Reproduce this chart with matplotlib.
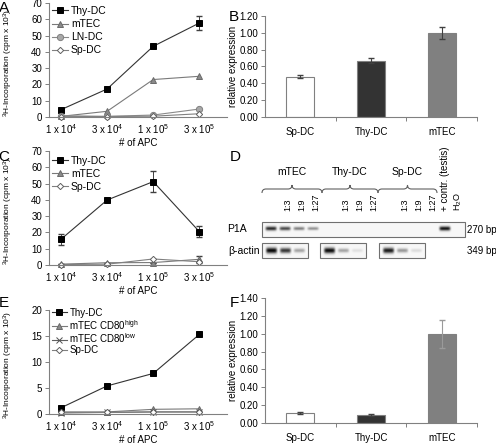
"""
Multi-panel figure: T-cell proliferation vs APC number, relative P1A
expression and an RT-PCR gel (panels A-F).
"""
import numpy as np
import matplotlib
matplotlib.use("Agg")
import matplotlib.pyplot as plt
from matplotlib.path import Path
from matplotlib.patches import PathPatch, Rectangle

plt.rcParams["font.family"] = ["Liberation Sans", "DejaVu Sans"]
plt.rcParams["mathtext.default"] = "regular"

W, H = 496, 445

# --- data ---
apc_labels = ["1 x 10$^{4}$", "3 x 10$^{4}$", "1 x 10$^{5}$", "3 x 10$^{5}$"]

thy_a = [4.5, 17.2, 43.4, 57.7]
thy_a_err = [0, 0, 0, 4.5]
mtec_a = [0.4, 3.5, 23.0, 25.0]
ln_a = [0.8, 0.4, 1.2, 4.9]
sp_a = [0.2, 0.3, 0.5, 2.0]

thy_c = [15.8, 39.9, 51.2, 20.5]
thy_c_err = [3.5, 0, 6.5, 3.5]
mtec_c = [0.5, 1.4, 1.5, 3.5]
mtec_c_err = [0, 0, 0, 2.0]
sp_c = [0.3, 0.5, 3.7, 2.0]

thy_e = [1.2, 5.4, 7.8, 15.3]
cd80high_e = [0.4, 0.4, 0.9, 1.0]
cd80low_e = [0.2, 0.3, 0.4, 0.4]
sp_e = [0.3, 0.3, 0.4, 0.4]

bar_labels = ["Sp-DC", "Thy-DC", "mTEC"]
expr_b = [0.48, 0.67, 1.00]
expr_b_err = [0.02, 0.03, 0.07]
expr_f = [0.11, 0.09, 1.00]
expr_f_err = [0.01, 0.01, 0.155]

# gel (panel D): band intensities, 0 = no band
gel_groups = ["mTEC", "Thy-DC", "Sp-DC"]
dilutions = ["", "1:3", "1:9", "1:27"]
p1a_bands = {"mTEC": [0.85, 0.72, 0.5, 0.42], "Thy-DC": [0, 0, 0, 0], "Sp-DC": [0, 0, 0, 0]}
p1a_controls = [0.95, 0.0]  # + contr. (testis), H2O
actin_bands = {"mTEC": [1.0, 0.8, 0.35], "Thy-DC": [0.98, 0.35, 0.1], "Sp-DC": [0.92, 0.4, 0.12]}

fig = plt.figure(figsize=(W / 100, H / 100), dpi=100)


def px_axes(left, top, right, bottom):
    return fig.add_axes([left / W, 1 - bottom / H, (right - left) / W, (bottom - top) / H])


def style_axes(ax):
    for s in ["top", "right"]:
        ax.spines[s].set_visible(False)
    for s in ["left", "bottom"]:
        ax.spines[s].set_color("#808080")
        ax.spines[s].set_linewidth(0.8)
    ax.tick_params(axis="y", length=3, width=0.7, color="#808080", labelsize=7, pad=2)
    ax.tick_params(axis="x", length=0, labelsize=7, pad=4)


STYLES = {
    "Thy-DC": dict(marker="s", ms=4.5, mfc="black", mec="black", color="#333333"),
    "mTEC": dict(marker="^", ms=4.5, mfc="#8a8a8a", mec="#6a6a6a", color="#7a7a7a"),
    "LN-DC": dict(marker="o", ms=4.5, mfc="#a8a8a8", mec="#808080", color="#8a8a8a"),
    "Sp-DC": dict(marker="D", ms=3.2, mfc="white", mec="#606060", color="#808080"),
    "mTEC CD80$^{high}$": dict(marker="^", ms=4.5, mfc="#8a8a8a", mec="#6a6a6a", color="#7a7a7a"),
    "mTEC CD80$^{low}$": dict(marker="x", ms=4, mfc="#505050", mec="#505050", color="#606060"),
}


def line_panel(ax, series, ymax, ystep, legend_y, legend_size, legend_spacing):
    x = np.arange(len(apc_labels))
    for name, vals, err in series:
        st = STYLES[name]
        if err is not None:
            ax.errorbar(x, vals, yerr=err, fmt="none", elinewidth=0.7, capsize=2,
                        ecolor="#404040", clip_on=False)
        ax.plot(x, vals, label=name, lw=0.8, mew=0.7, clip_on=False, **st)
    style_axes(ax)
    ax.set_xlim(-0.26, 3.6)
    ax.set_ylim(0, ymax)
    ax.set_yticks(np.arange(0, ymax + 0.01, ystep))
    ax.set_xticks(x)
    ax.set_xticklabels(apc_labels)
    ax.set_ylabel("$^{3}$H-Incorporation (cpm x 10$^{3}$)", fontsize=6.0)
    ax.yaxis.set_label_coords(-0.19, 0.47)
    ax.set_xlabel("# of APC", fontsize=7, labelpad=1)
    ax.legend(loc="upper left", bbox_to_anchor=(0.0, legend_y), frameon=False,
              fontsize=legend_size, handlelength=1.5, handletextpad=0.3,
              labelspacing=legend_spacing, borderpad=0.1, borderaxespad=0.2)


def bar_panel(ax, vals, errs, ymax, ecolors):
    x = np.arange(len(bar_labels))
    ax.bar(x, vals, width=0.4, color=["white", "#333333", "#808080"],
           edgecolor="#808080", linewidth=0.8, zorder=2)
    for xi, v, e, ec in zip(x, vals, errs, ecolors):
        ax.errorbar(xi, v, yerr=e, fmt="none", ecolor=ec, elinewidth=0.8, capsize=2, zorder=3)
    style_axes(ax)
    ax.set_xlim(-0.5, 2.5)
    ax.set_ylim(0, ymax)
    ax.set_yticks(np.arange(0, ymax + 0.01, 0.2))
    ax.yaxis.set_major_formatter(matplotlib.ticker.FormatStrFormatter("%.2f"))
    ax.set_xticks(x)
    ax.set_xticklabels(bar_labels)
    ax.set_xticks([0.5, 1.5, 2.5], minor=True)
    ax.tick_params(axis="x", which="minor", length=3, width=0.7, color="#808080")
    ax.tick_params(axis="x", pad=7)
    ax.set_ylabel("relative expression", fontsize=7)
    ax.yaxis.set_label_coords(-0.128, 0.5)


# --- A ---
ax_a = px_axes(49, 3, 227, 117)
line_panel(ax_a, [("Thy-DC", thy_a, thy_a_err), ("mTEC", mtec_a, None),
                  ("LN-DC", ln_a, None), ("Sp-DC", sp_a, None)], 70, 10, 1.0, 7.5, 0.3)

# --- B ---
ax_b = px_axes(265, 16, 477, 117)
bar_panel(ax_b, expr_b, expr_b_err, 1.2, ["#404040"] * 3)

# --- C ---
ax_c = px_axes(49, 151, 227, 265)
line_panel(ax_c, [("Thy-DC", thy_c, thy_c_err), ("mTEC", mtec_c, mtec_c_err),
                  ("Sp-DC", sp_c, None)], 70, 10, 0.985, 7.5, 0.3)

# --- E ---
ax_e = px_axes(49, 310, 227, 414)
line_panel(ax_e, [("Thy-DC", thy_e, None), ("mTEC CD80$^{high}$", cd80high_e, None),
                  ("mTEC CD80$^{low}$", cd80low_e, None), ("Sp-DC", sp_e, None)],
           20, 5, 1.05, 7, 0.0)

# --- F ---
ax_f = px_axes(265, 298, 477, 423)
bar_panel(ax_f, expr_f, expr_f_err, 1.4, ["#404040", "#404040", "#9a9a9a"])

# --- D: gel, drawn in figure pixel coordinates ---
ax_d = fig.add_axes([0, 0, 1, 1], zorder=-1)
ax_d.set_xlim(0, W)
ax_d.set_ylim(H, 0)
ax_d.axis("off")


def gel_box(x0, x1, y0, y1, centers, intens, yc, bh):
    xs = np.linspace(x0, x1, int((x1 - x0) * 4))
    ys = np.linspace(y0, y1, int((y1 - y0) * 4))
    X, Y = np.meshgrid(xs, ys)
    img = np.full(X.shape, 0.97)
    for c, v in zip(centers, intens):
        if v <= 0:
            continue
        gx = np.exp(-((X - c) / 5.5) ** 6)
        gy = np.exp(-((Y - yc) / (bh * (0.6 + 0.5 * v))) ** 2)
        img -= 0.95 * v * gx * gy
    ax_d.imshow(np.clip(img, 0, 1), cmap="gray", vmin=0, vmax=1, aspect="auto",
                extent=(x0, x1, y1, y0), interpolation="bilinear")
    ax_d.add_patch(Rectangle((x0, y0), x1 - x0, y1 - y0, fill=False,
                             edgecolor="#707070", lw=0.8))


def brace(x0, x1, ytop, ybot):
    xm = (x0 + x1) / 2
    ymid = (ytop + ybot) / 2
    r = 4
    verts = [(x0, ybot), (x0, ymid), (x0 + r, ymid), (xm - r, ymid), (xm, ymid), (xm, ytop),
             (xm, ymid), (xm + r, ymid), (x1 - r, ymid), (x1, ymid), (x1, ybot)]
    codes = [Path.MOVETO, Path.CURVE3, Path.CURVE3, Path.LINETO, Path.CURVE3, Path.CURVE3,
             Path.CURVE3, Path.CURVE3, Path.LINETO, Path.CURVE3, Path.CURVE3]
    ax_d.add_patch(PathPatch(Path(verts, codes), fill=False, edgecolor="#606060", lw=0.8))


lane_step = 14
group_start = {"mTEC": 271, "Thy-DC": 329, "Sp-DC": 388}
brace_span = {"mTEC": (262, 322), "Thy-DC": (322, 378), "Sp-DC": (378, 437)}
ctrl_x = [445, 458]

p1a_centers, p1a_vals = [], []
for g in gel_groups:
    xs = [group_start[g] + i * lane_step for i in range(len(dilutions))]
    p1a_centers += xs
    p1a_vals += p1a_bands[g]
    b0, b1 = brace_span[g]
    brace(b0, b1, 185, 193)
    ax_d.text((b0 + b1) / 2, 172, g, fontsize=7.5, ha="center", va="center")
    for xl, lab in zip(xs, dilutions):
        if lab:
            ax_d.text(xl + 3, 211, lab, fontsize=6.5, rotation=90, ha="center", va="bottom")
    # beta-actin box for this group
    ax_centers = [group_start[g] + i * lane_step for i in range(len(actin_bands[g]))]
    gel_box(ax_centers[0] - 9.5, ax_centers[-1] + 8.5, 243, 258, ax_centers, actin_bands[g], 250.5, 2.6)

gel_box(262, 465, 222, 237, p1a_centers + ctrl_x, p1a_vals + p1a_controls, 228.5, 2.0)

ax_d.text(ctrl_x[0], 211, "+ contr. (testis)", fontsize=7, rotation=90, ha="center", va="bottom")
ax_d.text(ctrl_x[1], 211, "H$_{2}$O", fontsize=6.5, rotation=90, ha="center", va="bottom")
ax_d.text(247, 229.5, "P1A", fontsize=7.5, ha="right", va="center")
ax_d.text(260, 250.5, "β-actin", fontsize=7.5, ha="right", va="center")
ax_d.text(467, 230, "270 bp", fontsize=7, ha="left", va="center")
ax_d.text(467, 251, "349 bp", fontsize=7, ha="left", va="center")

# panel letters
for lab, x, y in [("A", 4, 8), ("B", 234, 17), ("C", 4, 157), ("D", 235, 157),
                  ("E", 4, 303), ("F", 234, 303)]:
    fig.text(x / W, 1 - y / H, lab, fontsize=11, ha="center", va="center")

fig.savefig("out.png", dpi=100)
